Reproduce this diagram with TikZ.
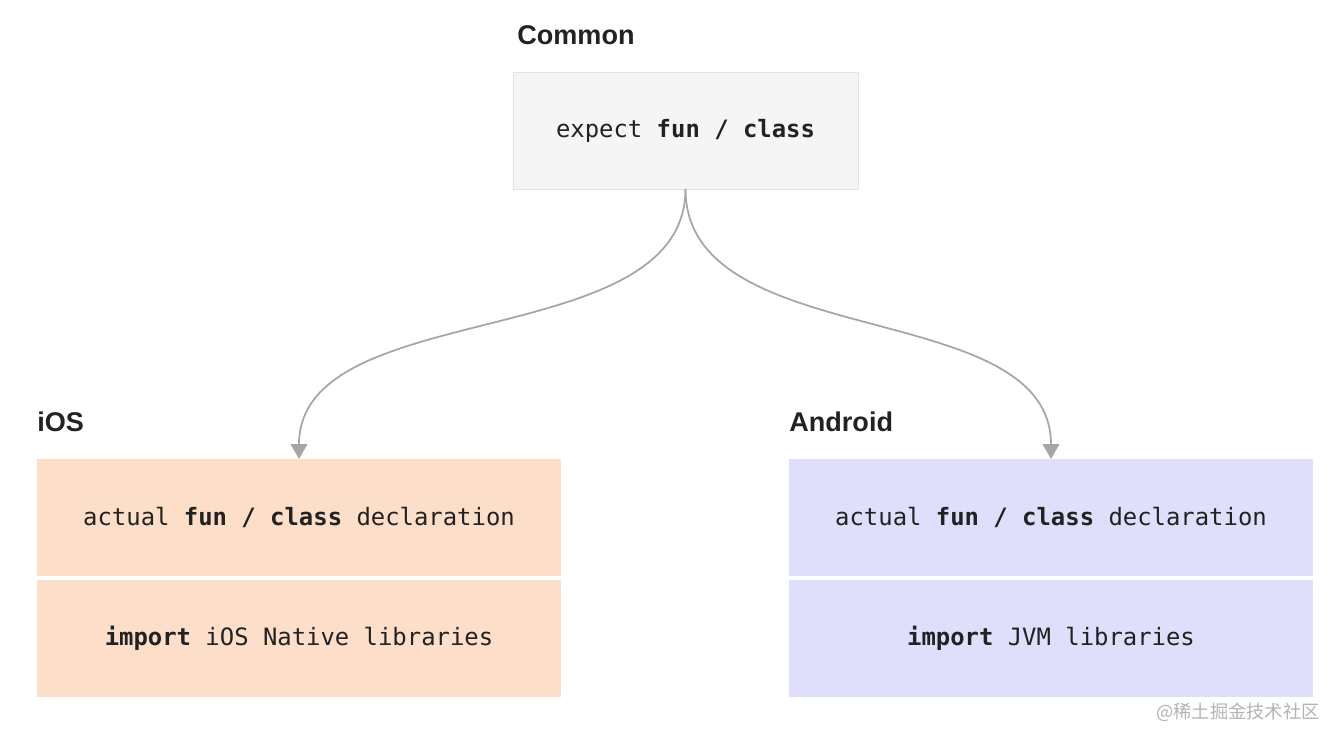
\documentclass[tikz,border=0pt]{standalone}
\usepackage{fontspec}
\setmainfont{Liberation Sans}
\setmonofont{DejaVu Sans Mono}
\newfontfamily\cjk{Noto Sans CJK SC}
\usetikzlibrary{arrows.meta,positioning}
\definecolor{txt}{HTML}{222222}
\definecolor{commonfill}{HTML}{F5F5F5}
\definecolor{commonline}{HTML}{E2E2E2}
\definecolor{iosfill}{HTML}{FDDFC9}
\definecolor{droidfill}{HTML}{DFDFFC}
\definecolor{link}{HTML}{A6A6A6}
\tikzset{
  codebox/.style={minimum width=10.48cm, minimum height=2.34cm, inner sep=0pt, outer sep=0pt,
    font=\fontsize{13.6}{16}\ttfamily, text=txt},
  head/.style={anchor=base west, inner sep=0pt, font=\fontsize{15.4}{18}\bfseries, text=txt},
  link/.style={draw=link, line width=1pt, -{Triangle[width=9.5pt,length=8.5pt]}}
}
\begin{document}
\begin{tikzpicture}[x=0.02cm, y=-0.02cm]
  \useasboundingbox (0,0) rectangle (1340,744);
  % common block
  \node[head] (commonlbl) at (517,44) {Common};
  \node[codebox, minimum width=6.9cm, fill=commonfill, draw=commonline, line width=0.5pt] (common) at (685.5,130.5)
    {expect \textbf{fun / class}};
  % platform blocks
  \node[head] (ioslbl) at (37,431) {iOS};
  \node[codebox, fill=iosfill] (iosdecl) at (299,517.5) {actual \textbf{fun / class} declaration};
  \node[codebox, fill=iosfill] (iosimport) at (299,638.5) {\textbf{import} iOS Native libraries};
  \node[head] (droidlbl) at (789,431) {Android};
  \node[codebox, fill=droidfill] (droiddecl) at (1051,517.5) {actual \textbf{fun / class} declaration};
  \node[codebox, fill=droidfill] (droidimport) at (1051,638.5) {\textbf{import} JVM libraries};
  % links
  \draw[link] (common.south) .. controls (685.5,355) and (299,295) .. (iosdecl.north);
  \draw[link] (common.south) .. controls (685.5,355) and (1051,295) .. (droiddecl.north);
  \node[text=link!85, font=\fontsize{10.4}{12}\cjk] (mark) at (1238,712) {@稀土掘金技术社区};
\end{tikzpicture}
\end{document}
